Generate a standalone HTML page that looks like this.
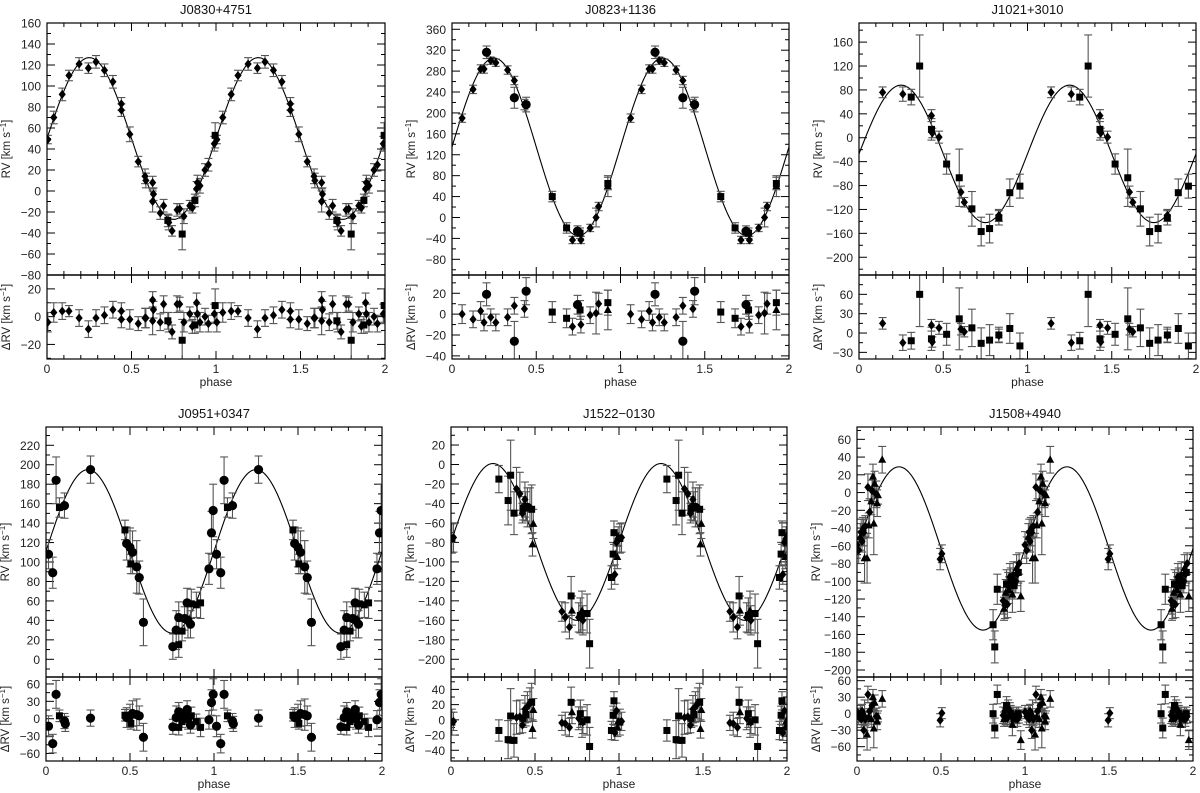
<!DOCTYPE html>
<html><head><meta charset="utf-8"><title>RV curves</title>
<style>
html,body{margin:0;padding:0;background:#fff;}
svg{display:block;font-family:"Liberation Sans",sans-serif;}
</style></head>
<body>
<svg id="fig" width="1200" height="793" viewBox="0 0 1200 793" xmlns="http://www.w3.org/2000/svg"></svg>
<script>
// ---------------- data (phase, RV, err, marker) ----------------
const p1Points=[[0.005,49,4,'D'],[0.04,70,6,'D'],[0.09,92,6,'D'],[0.13,110,5,'D'],[0.19,121,6,'D'],[0.245,117,5,'D'],[0.29,123,6,'D'],[0.34,115,6,'D'],[0.39,104,6,'D'],[0.44,83,6,'D'],[0.44,77,6,'D'],[0.49,54,7,'D'],[0.54,28,5,'D'],[0.58,14,7,'D'],[0.585,10,7,'D'],[0.625,8,6,'D'],[0.63,-3,6,'D'],[0.625,-10,10,'D'],[0.67,-21,6,'D'],[0.69,-14,6,'D'],[0.715,-28,6,'S'],[0.72,-30,7,'D'],[0.74,-38,5,'D'],[0.77,-18,6,'D'],[0.785,-17,5,'D'],[0.80,-41,15,'S'],[0.81,-24,7,'D'],[0.845,-14,5,'D'],[0.86,-16,5,'D'],[0.875,-9,6,'S'],[0.885,2,7,'D'],[0.89,8,7,'D'],[0.905,5,7,'D'],[0.935,20,6,'D'],[0.955,25,6,'D'],[0.99,45,7,'D'],[0.995,53,12,'S']];
const p1Resid=[[0.005,-4,7,'D'],[0.04,3,7,'D'],[0.09,4,6,'D'],[0.13,4,4,'D'],[0.19,-1,6,'D'],[0.245,-9,6,'D'],[0.29,-1,6,'D'],[0.34,1,6,'D'],[0.39,5,6,'D'],[0.44,4,6,'D'],[0.44,-2,6,'D'],[0.49,-2,7,'D'],[0.54,-5,5,'D'],[0.58,-1,7,'D'],[0.585,-1,7,'D'],[0.625,12,6,'D'],[0.63,5,6,'D'],[0.625,-3,10,'D'],[0.67,-4,6,'D'],[0.69,9,6,'D'],[0.715,-3,6,'S'],[0.72,-4,7,'D'],[0.74,-11,5,'D'],[0.77,9,6,'D'],[0.785,9,5,'D'],[0.80,-17,15,'S'],[0.81,-4,7,'D'],[0.845,2,5,'D'],[0.86,-7,5,'D'],[0.875,-6,6,'S'],[0.885,10,7,'D'],[0.89,2,7,'D'],[0.905,-4,7,'D'],[0.935,0,6,'D'],[0.955,-5,6,'D'],[0.99,2,7,'D'],[0.995,8,12,'S']];

const p2Points=[[0.06,190,8,'D'],[0.125,245,8,'D'],[0.17,284,8,'D'],[0.19,284,8,'D'],[0.205,316,12,'C'],[0.23,300,7,'D'],[0.26,296,7,'D'],[0.33,282,8,'D'],[0.37,262,8,'D'],[0.37,229,20,'C'],[0.43,216,10,'D'],[0.44,216,14,'C'],[0.595,40,10,'S'],[0.68,-20,10,'S'],[0.715,-43,7,'D'],[0.745,-26,10,'C'],[0.76,-30,10,'S'],[0.765,-43,7,'D'],[0.82,-20,7,'D'],[0.855,0,18,'D'],[0.87,21,8,'D'],[0.925,65,12,'S'],[0.925,60,20,'T']];
const p2Resid=[[0.06,0,9,'D'],[0.125,-5,8,'D'],[0.17,3,9,'D'],[0.19,-8,8,'D'],[0.205,19,11,'C'],[0.23,-3,8,'D'],[0.26,-8,8,'D'],[0.33,-3,8,'D'],[0.37,8,8,'D'],[0.37,-26,19,'C'],[0.43,5,8,'D'],[0.44,22,13,'C'],[0.595,2,10,'S'],[0.68,-4,9,'S'],[0.715,-12,8,'D'],[0.745,9,9,'C'],[0.76,4,9,'S'],[0.765,-10,8,'D'],[0.82,-1,8,'D'],[0.855,1,20,'D'],[0.87,10,10,'D'],[0.925,11,12,'S'],[0.925,4,19,'T']];

const p3Points=[[0.14,76,9,'D'],[0.26,73,12,'D'],[0.31,68,13,'S'],[0.36,120,52,'S'],[0.43,37,10,'D'],[0.43,14,18,'S'],[0.435,8,8,'D'],[0.475,1,10,'D'],[0.52,-44,17,'S'],[0.595,-67,48,'S'],[0.605,-91,10,'D'],[0.625,-108,8,'D'],[0.67,-119,29,'S'],[0.725,-157,24,'S'],[0.775,-152,24,'S'],[0.83,-134,12,'S'],[0.83,-130,10,'D'],[0.895,-92,23,'S'],[0.955,-81,20,'S']];
const p3Resid=[[0.14,15,9,'D'],[0.26,-15,12,'D'],[0.31,-12,13,'S'],[0.36,60,50,'S'],[0.43,12,9,'D'],[0.43,-9,18,'S'],[0.435,-14,8,'D'],[0.475,8,10,'D'],[0.52,-2,17,'S'],[0.595,22,48,'S'],[0.605,6,9,'D'],[0.625,2,8,'D'],[0.67,8,29,'S'],[0.725,-16,24,'S'],[0.775,-11,24,'S'],[0.83,-3,12,'S'],[0.83,-4,10,'D'],[0.895,7,23,'S'],[0.955,-20,20,'S']];

const p4Points=[[0.015,108,15,'C'],[0.04,89,16,'C'],[0.06,184,24,'C'],[0.08,156,10,'S'],[0.11,158,13,'C'],[0.265,195,14,'C'],[0.47,133,10,'S'],[0.48,119,17,'C'],[0.5,115,20,'C'],[0.505,98,10,'S'],[0.515,110,22,'C'],[0.54,95,27,'C'],[0.555,84,17,'C'],[0.58,38,24,'C'],[0.755,13,13,'C'],[0.775,30,20,'C'],[0.79,15,13,'S'],[0.79,43,16,'C'],[0.81,29,10,'S'],[0.825,42,12,'C'],[0.84,58,15,'C'],[0.845,40,18,'C'],[0.86,36,14,'C'],[0.865,57,15,'S'],[0.895,56,13,'S'],[0.92,58,16,'S'],[0.97,93,16,'C'],[0.985,130,22,'C'],[0.995,153,27,'C']];
const p4Resid=[[0.015,-13,18,'C'],[0.04,-43,16,'C'],[0.06,42,24,'C'],[0.08,5,10,'S'],[0.11,-4,13,'C'],[0.115,-9,13,'C'],[0.265,1,14,'C'],[0.47,6,10,'S'],[0.48,2,17,'C'],[0.5,5,20,'C'],[0.505,-8,10,'S'],[0.515,9,22,'C'],[0.54,7,27,'C'],[0.555,5,17,'C'],[0.58,-32,24,'C'],[0.755,-14,13,'C'],[0.775,2,20,'C'],[0.79,-15,13,'S'],[0.79,12,16,'C'],[0.81,-5,10,'S'],[0.825,5,12,'C'],[0.84,16,15,'C'],[0.845,0,18,'C'],[0.86,-11,14,'C'],[0.865,5,15,'S'],[0.895,-5,13,'S'],[0.92,-15,16,'S'],[0.97,-2,16,'C'],[0.985,28,22,'C'],[0.995,42,27,'C']];

const p5Points=[[0.005,-76,15,'S'],[0.015,-75,15,'D'],[0.285,-15,14,'S'],[0.34,-37,25,'S'],[0.355,-11,36,'S'],[0.375,-50,22,'S'],[0.39,-25,22,'D'],[0.41,-30,22,'D'],[0.425,-50,10,'D'],[0.43,-45,12,'S'],[0.44,-36,18,'D'],[0.445,-43,15,'S'],[0.455,-44,20,'D'],[0.47,-44,20,'D'],[0.48,-46,25,'S'],[0.485,-82,12,'T'],[0.49,-61,15,'T'],[0.66,-151,10,'D'],[0.68,-157,15,'D'],[0.705,-167,12,'D'],[0.715,-135,20,'S'],[0.72,-150,15,'T'],[0.76,-157,15,'D'],[0.77,-155,18,'S'],[0.78,-150,20,'T'],[0.785,-160,15,'D'],[0.81,-153,20,'S'],[0.825,-184,25,'S'],[0.955,-116,12,'S'],[0.965,-92,12,'S'],[0.97,-70,12,'S'],[0.975,-113,10,'D'],[0.985,-80,10,'D'],[0.99,-95,12,'T'],[0.995,-74,10,'T']];
const p5Resid=[[0.005,-3,17,'S'],[0.015,-2,12,'D'],[0.285,-14,14,'S'],[0.34,-26,25,'S'],[0.355,5,36,'S'],[0.375,-27,22,'S'],[0.39,3,22,'D'],[0.41,4,22,'D'],[0.425,-7,10,'D'],[0.43,2,12,'S'],[0.44,14,18,'D'],[0.445,7,15,'S'],[0.455,17,20,'D'],[0.47,22,20,'D'],[0.48,23,25,'S'],[0.485,-12,12,'T'],[0.49,13,15,'T'],[0.66,-4,10,'D'],[0.68,-5,15,'D'],[0.705,-10,12,'D'],[0.715,23,20,'S'],[0.72,10,15,'T'],[0.76,2,15,'D'],[0.77,8,18,'S'],[0.78,-3,20,'T'],[0.785,-3,15,'D'],[0.81,0,20,'S'],[0.825,-35,25,'S'],[0.955,-14,12,'S'],[0.965,6,12,'S'],[0.97,25,12,'S'],[0.975,-17,10,'D'],[0.985,12,10,'D'],[0.99,-10,12,'T'],[0.995,-2,10,'T']];

const p6Points=[[0.0,-59,15,'D'],[0.01,-65,15,'D'],[0.02,-50,15,'T'],[0.025,-45,15,'D'],[0.03,-55,12,'D'],[0.035,-40,12,'T'],[0.04,-45,15,'D'],[0.045,-74,28,'T'],[0.05,-38,12,'D'],[0.06,-74,28,'T'],[0.065,6,15,'D'],[0.07,-37,14,'T'],[0.075,-22,15,'D'],[0.085,-10,15,'T'],[0.09,2,12,'D'],[0.095,18,14,'T'],[0.1,-35,35,'T'],[0.105,10,14,'T'],[0.115,-2,15,'D'],[0.12,-12,15,'T'],[0.125,-3,10,'T'],[0.15,37,15,'T'],[0.495,-75,12,'D'],[0.505,-69,10,'D'],[0.81,-149,17,'S'],[0.82,-174,18,'S'],[0.835,-109,17,'S'],[0.87,-122,15,'D'],[0.875,-131,13,'T'],[0.88,-127,15,'D'],[0.885,-113,15,'T'],[0.89,-103,16,'S'],[0.895,-126,15,'D'],[0.9,-105,15,'D'],[0.905,-110,15,'T'],[0.91,-95,15,'D'],[0.915,-100,15,'S'],[0.925,-115,20,'T'],[0.93,-93,15,'D'],[0.935,-105,15,'S'],[0.945,-100,13,'D'],[0.95,-85,15,'T'],[0.955,-92,13,'D'],[0.96,-90,12,'S'],[0.965,-80,12,'D'],[0.975,-117,17,'T']];
const p6Resid=[[0.0,3,12,'D'],[0.01,-5,15,'D'],[0.02,0,15,'T'],[0.025,-10,15,'D'],[0.03,5,12,'D'],[0.035,-8,12,'T'],[0.04,-30,15,'D'],[0.045,-3,28,'T'],[0.05,-10,12,'D'],[0.06,-38,28,'T'],[0.065,35,15,'D'],[0.07,-5,14,'T'],[0.075,5,15,'D'],[0.085,-10,15,'T'],[0.09,15,12,'D'],[0.095,30,14,'T'],[0.1,-27,35,'T'],[0.105,20,14,'T'],[0.115,-5,15,'D'],[0.12,-14,15,'T'],[0.125,-5,10,'T'],[0.15,27,15,'T'],[0.495,-12,12,'D'],[0.505,1,10,'D'],[0.81,0,17,'S'],[0.82,-26,18,'S'],[0.835,35,17,'S'],[0.87,-3,15,'D'],[0.875,-10,13,'T'],[0.88,5,15,'D'],[0.885,-5,15,'T'],[0.89,15,16,'S'],[0.895,-8,15,'D'],[0.9,10,15,'D'],[0.905,-5,15,'T'],[0.91,5,15,'D'],[0.915,0,15,'S'],[0.925,-20,20,'T'],[0.93,-3,15,'D'],[0.935,-10,15,'S'],[0.945,-5,13,'D'],[0.95,-3,15,'T'],[0.955,-10,13,'D'],[0.96,0,12,'S'],[0.965,-5,12,'D'],[0.975,-48,17,'T']];

// orbit fit parameters: systemic velocity and semi-amplitude
const fitGamma=[50,135,-27,111,-79.5,-63];
const fitK=[77,170,115,84,80.5,92];
const titles=['J0830+4751','J0823+1136','J1021+3010','J0951+0347','J1522\u22120130','J1508+4940'];
const xTicks=[0,0.5,1,1.5,2];
const xTickLabels=['0','0.5','1','1.5','2'];
const rvTicks=[[-80,-60,-40,-20,0,20,40,60,80,100,120,140,160],[-80,-40,0,40,80,120,160,200,240,280,320,360],[-200,-160,-120,-80,-40,0,40,80,120,160],[0,20,40,60,80,100,120,140,160,180,200,220],[-200,-180,-160,-140,-120,-100,-80,-60,-40,-20,0,20],[-200,-180,-160,-140,-120,-100,-80,-60,-40,-20,0,20,40,60]];
const resTicks=[[-20,0,20],[-40,-20,0,20],[-30,0,30,60],[-60,-30,0,30,60],[-40,-20,0,20,40],[-60,-30,0,30,60]];
const allPoints=[p1Points,p2Points,p3Points,p4Points,p5Points,p6Points];
const allResid=[p1Resid,p2Resid,p3Resid,p4Resid,p5Resid,p6Resid];

// ---------------- layout (pixels / axis ranges) ----------------
const layout=[
 {x0:47,x1:385,top:23,sep:275,bot:359,rv:[-80,160],res:[-30.5,30],rvMinor:10,resMinor:10},
 {x0:452,x1:789,top:23,sep:275,bot:359,rv:[-110,372],res:[-43,37.5],rvMinor:20,resMinor:10},
 {x0:859,x1:1196,top:23,sep:275,bot:359,rv:[-229.7,192],res:[-40.3,90],rvMinor:20,resMinor:15},
 {x0:46,x1:382,top:427,sep:677,bot:761,rv:[-18.2,238.8],res:[-73,72],rvMinor:10,resMinor:15},
 {x0:451,x1:787,top:427,sep:677,bot:761,rv:[-218.2,38.5],res:[-54.1,56.3],rvMinor:10,resMinor:10},
 {x0:857,x1:1193,top:427,sep:677,bot:761,rv:[-207.9,73.9],res:[-86,66.7],rvMinor:10,resMinor:15}
];

const NS='http://www.w3.org/2000/svg';
const svg=document.getElementById('fig');
function mk(tag,attrs,parent){const e=document.createElementNS(NS,tag);for(const k in attrs)e.setAttribute(k,attrs[k]);(parent||svg).appendChild(e);return e;}
function fmt(v){return v<0?'\u2212'+Math.abs(v):String(v);}

function marker(g,t,x,y){
  let e;
  if(t==='C'){e=mk('circle',{cx:x,cy:y,r:4.6,fill:'#000'},g);}
  else if(t==='S'){e=mk('rect',{x:x-3.5,y:y-3.5,width:7,height:7,fill:'#000'},g);}
  else if(t==='T'){e=mk('polygon',{points:`${x},${y-4.5} ${x+4},${y+3} ${x-4},${y+3}`,fill:'#000'},g);}
  else {e=mk('polygon',{points:`${x},${y-4.5} ${x+3.6},${y} ${x},${y+4.5} ${x-3.6},${y}`,fill:'#000'},g);}
  
  
}

function drawPanel(i){
  const L=layout[i];
  const g=mk('g',{});
  
  
  const xs=p=>L.x0+(p/2)*(L.x1-L.x0);
  const ys=v=>L.sep-(v-L.rv[0])/(L.rv[1]-L.rv[0])*(L.sep-L.top);
  const yr=v=>L.bot-(v-L.res[0])/(L.res[1]-L.res[0])*(L.bot-L.sep);
  const cx=(L.x0+L.x1)/2;
  // title
  const t=mk('text',{x:cx,y:L.top-9,'text-anchor':'middle','font-size':13,fill:'#111'},g);
  t.textContent=titles[i];
  
  
  // clip
  const cid='clip'+i;
  const cp=mk('clipPath',{id:cid},g);
  mk('rect',{x:L.x0,y:L.top,width:L.x1-L.x0,height:L.bot-L.top},cp);
  // ticks
  const tk=mk('g',{stroke:'#000','stroke-width':1},g);
  
  
  for(let k=0;k<=20;k++){
    const p=k*0.1, x=xs(p), len=(k%5===0)?8:4;
    [[L.top,1],[L.sep,-1],[L.sep,1],[L.bot,-1]].forEach(([yy,d])=>mk('line',{x1:x,x2:x,y1:yy,y2:yy+d*len},tk));
  }
  const vt=(lo,hi,minor,majors,scale,y0,y1)=>{
    const start=Math.ceil(lo/minor)*minor;
    for(let v=start;v<=hi+1e-9;v+=minor){
      const y=scale(v); if(y<y0-0.5||y>y1+0.5)continue;
      const len=majors.includes(Math.round(v))?8:4;
      mk('line',{x1:L.x0,x2:L.x0+len,y1:y,y2:y},tk);
      mk('line',{x1:L.x1,x2:L.x1-len,y1:y,y2:y},tk);
    }
  };
  vt(L.rv[0],L.rv[1],L.rvMinor,rvTicks[i],ys,L.top,L.sep);
  vt(L.res[0],L.res[1],L.resMinor,resTicks[i],yr,L.sep,L.bot);
  // tick labels
  rvTicks[i].forEach(v=>{const e=mk('text',{x:L.x0-6,y:ys(v)+4.5,'text-anchor':'end','font-size':12,fill:'#222'},g);e.textContent=fmt(v);
    });
  resTicks[i].forEach(v=>{const e=mk('text',{x:L.x0-6,y:yr(v)+4.5,'text-anchor':'end','font-size':12,fill:'#222'},g);e.textContent=fmt(v);
    });
  xTicks.forEach((p,k)=>{const e=mk('text',{x:xs(p),y:L.bot+14,'text-anchor':'middle','font-size':12,fill:'#222'},g);e.textContent=xTickLabels[k];
    });
  // axis titles
  const ph=mk('text',{x:cx,y:L.bot+27,'text-anchor':'middle','font-size':12,fill:'#222'},g);ph.textContent='phase';
  
  const ym=(L.top+L.sep)/2, yrm=(L.sep+L.bot)/2, lx=L.x0-37;
  const a1=mk('text',{x:lx,y:ym,'text-anchor':'middle','font-size':11.5,fill:'#222',transform:`rotate(-90 ${lx} ${ym})`},g);
  a1.innerHTML='RV  [km s<tspan dy="-4" font-size="8">\u22121</tspan><tspan dy="4">]</tspan>';
  
  const a2=mk('text',{x:lx,y:yrm,'text-anchor':'middle','font-size':11.5,fill:'#222',transform:`rotate(-90 ${lx} ${yrm})`},g);
  a2.innerHTML='\u0394RV  [km s<tspan dy="-4" font-size="8">\u22121</tspan><tspan dy="4">]</tspan>';
  
  // data group clipped
  const dg=mk('g',{'clip-path':`url(#${cid})`},g);
  
  
  // model curve
  let d='';
  for(let k=0;k<=400;k++){const p=k/200;const v=fitGamma[i]+fitK[i]*Math.sin(2*Math.PI*p);d+=(k?'L':'M')+xs(p).toFixed(2)+','+ys(v).toFixed(2);}
  const c=mk('path',{d:d,fill:'none',stroke:'#000','stroke-width':1.1},dg);
  
  
  const errs=mk('g',{stroke:'#555','stroke-width':1.1},dg);
  
  
  const plot=(arr,sc,yLo,yHi)=>{
    arr.forEach(([p,v,e,m])=>{
      [p,p+1].forEach(pp=>{
        const x=xs(pp), y=sc(v), y1=sc(v+e), y2=sc(v-e);
        mk('line',{x1:x,x2:x,y1:Math.max(y1,yLo),y2:Math.min(y2,yHi)},errs);
        if(y1>=yLo)mk('line',{x1:x-4,x2:x+4,y1:y1,y2:y1},errs);
        if(y2<=yHi)mk('line',{x1:x-4,x2:x+4,y1:y2,y2:y2},errs);
        if(y>=yLo-4&&y<=yHi+4)marker(dg,m,x,y);
      });
    });
  };
  plot(allPoints[i],ys,L.top,L.sep);
  plot(allResid[i],yr,L.sep,L.bot);
  // frames
  const fr=mk('g',{fill:'none',stroke:'#000','stroke-width':1.2},g);
  
  
  mk('rect',{x:L.x0,y:L.top,width:L.x1-L.x0,height:L.bot-L.top},fr);
  mk('line',{x1:L.x0,x2:L.x1,y1:L.sep,y2:L.sep,'stroke-width':1.6},fr);
}
for(let i=0;i<6;i++)drawPanel(i);
</script>
</body></html>
